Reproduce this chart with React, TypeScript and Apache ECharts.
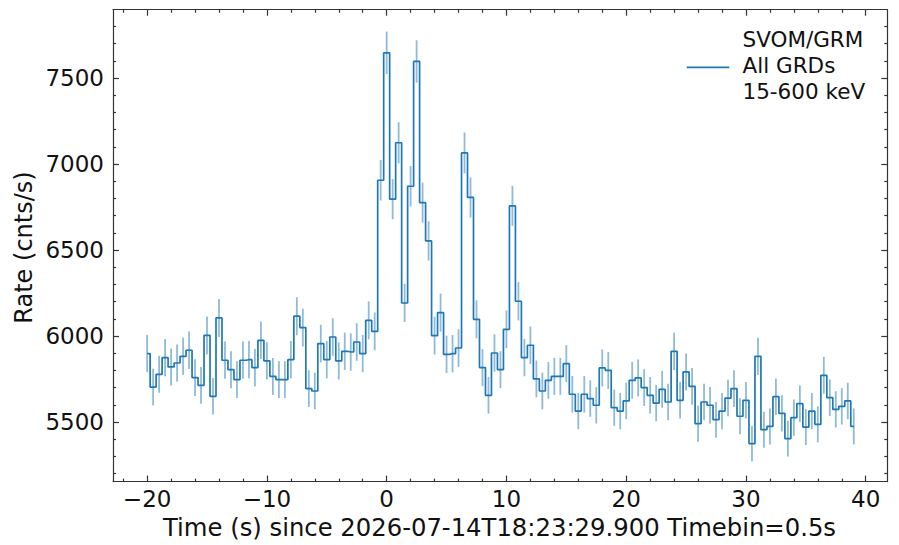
import React, { useEffect, useRef } from "react";
import * as echarts from "echarts";

// ---- data (0.5 s bins starting at -20 s) ----
const TIME_START = -20;
const TIMEBIN = 0.5;
const RATES: number[] = [
  5898, 5703, 5777, 5874, 5820, 5843, 5882, 5917, 5758, 5713,
  6004, 5649, 6105, 5859, 5804, 5746, 5859, 5862, 5816, 5975,
  5855, 5765, 5746, 5746, 5862, 6115, 6049, 5694, 5680, 5956,
  5862, 5994, 5855, 5911, 5907, 5965, 5898, 6091, 6027, 6906,
  7647, 6796, 7124, 6192, 6871, 7597, 6776, 6553, 6002, 6136,
  5893, 5897, 5930, 7065, 6806, 6097, 5816, 5655, 5901, 5804,
  6039, 6757, 6202, 5874, 5946, 5750, 5680, 5742, 5765, 5765,
  5839, 5661, 5563, 5661, 5636, 5597, 5814, 5800, 5583, 5563,
  5622, 5742, 5756, 5700, 5655, 5610, 5690, 5616, 5911, 5626,
  5791, 5707, 5490, 5616, 5597, 5513, 5563, 5639, 5694, 5533,
  5626, 5374, 5882, 5455, 5474, 5647, 5550, 5403, 5525, 5606,
  5470, 5563, 5486, 5771, 5641, 5573, 5591, 5622, 5474,
];

const X_MAJOR = [-20, -10, 0, 10, 20, 30, 40];
const X_MINOR = [-22, -18, -16, -14, -12, -8, -6, -4, -2, 2, 4, 6, 8, 12, 14, 16, 18, 22, 24, 26, 28, 32, 34, 36, 38];
const Y_MAJOR = [5500, 6000, 6500, 7000, 7500];
const Y_MINOR = [5200, 5300, 5400, 5600, 5700, 5800, 5900, 6100, 6200, 6300, 6400, 6600, 6700, 6800, 6900, 7100, 7200, 7300, 7400, 7600, 7700, 7800];

const X_TITLE = "Time (s) since 2026-07-14T18:23:29.900 Timebin=0.5s";
const Y_TITLE = "Rate (cnts/s)";
const LEGEND_TEXT = "SVOM/GRM\nAll GRDs\n15-600 keV";

const X_MIN = -22.85;
const X_MAX = 41.8;
const Y_MIN = 5153;
const Y_MAX = 7898;

const FONT = "DejaVu Sans";
const LINE_COLOR = "#1f77b4";
const ERR_COLOR = "rgba(31,119,180,0.5)";
const AXIS_COLOR = "#333";

export default function App() {
  const ref = useRef<HTMLDivElement>(null);

  useEffect(() => {
    if (!ref.current) return;
    const chart = echarts.init(ref.current, undefined, { renderer: "svg" });

    const times = RATES.map((_, i) => TIME_START + i * TIMEBIN);
    const stepData = RATES.map((r, i) => [times[i], r]);
    // Poisson uncertainty of the counts in each bin, expressed as a rate
    const errData = RATES.map((r, i) => {
      const e = Math.sqrt(r * TIMEBIN) / TIMEBIN;
      return [times[i], r - e, r + e];
    });

    const fmt = (v: number) => (v < 0 ? "\u2212" + String(-v) : String(v));

    const xBase = {
      type: "value" as const,
      min: X_MIN,
      max: X_MAX,
      splitLine: { show: false },
    };
    const yBase = {
      type: "value" as const,
      min: Y_MIN,
      max: Y_MAX,
      splitLine: { show: false },
    };
    const lineStyle = { color: AXIS_COLOR, width: 1.2 };

    chart.setOption({
      animation: false,
      backgroundColor: "#fff",
      grid: { left: 113, right: 11.7, top: 9.7, bottom: 63.4, containLabel: false },
      xAxis: [
        {
          ...xBase,
          position: "bottom",
          axisLine: { show: true, onZero: false, lineStyle },
          axisTick: { show: true, inside: true, length: 6, customValues: X_MAJOR, lineStyle },
          axisLabel: {
            show: true,
            customValues: X_MAJOR,
            formatter: fmt,
            margin: 6,
            fontFamily: FONT,
            fontSize: 23,
            color: "#111",
          },
        },
        {
          ...xBase,
          position: "bottom",
          axisLine: { show: false, onZero: false },
          axisTick: { show: true, inside: true, length: 3, customValues: X_MINOR, lineStyle },
          axisLabel: { show: false },
        },
        {
          ...xBase,
          position: "top",
          axisLine: { show: true, onZero: false, lineStyle },
          axisTick: { show: true, inside: true, length: 6, customValues: X_MAJOR, lineStyle },
          axisLabel: { show: false },
        },
        {
          ...xBase,
          position: "top",
          axisLine: { show: false, onZero: false },
          axisTick: { show: true, inside: true, length: 3, customValues: X_MINOR, lineStyle },
          axisLabel: { show: false },
        },
      ],
      yAxis: [
        {
          ...yBase,
          position: "left",
          axisLine: { show: true, onZero: false, lineStyle },
          axisTick: { show: true, inside: true, length: 6, customValues: Y_MAJOR, lineStyle },
          axisLabel: {
            show: true,
            customValues: Y_MAJOR,
            formatter: fmt,
            margin: 9,
            fontFamily: FONT,
            fontSize: 23,
            color: "#111",
          },
        },
        {
          ...yBase,
          position: "left",
          axisLine: { show: false, onZero: false },
          axisTick: { show: true, inside: true, length: 3, customValues: Y_MINOR, lineStyle },
          axisLabel: { show: false },
        },
        {
          ...yBase,
          position: "right",
          axisLine: { show: true, onZero: false, lineStyle },
          axisTick: { show: true, inside: true, length: 6, customValues: Y_MAJOR, lineStyle },
          axisLabel: { show: false },
        },
        {
          ...yBase,
          position: "right",
          axisLine: { show: false, onZero: false },
          axisTick: { show: true, inside: true, length: 3, customValues: Y_MINOR, lineStyle },
          axisLabel: { show: false },
        },
      ],
      series: [
        {
          name: "errors",
          type: "custom",
          xAxisIndex: 0,
          yAxisIndex: 0,
          data: errData,
          z: 1,
          renderItem: (params: any, api: any) => {
            const p1 = api.coord([api.value(0), api.value(1)]);
            const p2 = api.coord([api.value(0), api.value(2)]);
            return {
              type: "line",
              shape: { x1: p1[0], y1: p1[1], x2: p2[0], y2: p2[1] },
              style: { stroke: ERR_COLOR, lineWidth: 1.8 },
            };
          },
        },
        {
          name: LEGEND_TEXT,
          type: "line",
          step: "middle",
          xAxisIndex: 0,
          yAxisIndex: 0,
          data: stepData,
          showSymbol: false,
          symbol: "none",
          z: 2,
          lineStyle: { color: LINE_COLOR, width: 1.7 },
        },
      ],
      graphic: [
        {
          type: "text",
          x: 23.5,
          y: 247.5,
          rotation: Math.PI / 2,
          style: {
            text: Y_TITLE,
            font: `24px "${FONT}"`,
            fill: "#111",
            align: "center",
            verticalAlign: "middle",
          },
        },
        {
          type: "text",
          x: 499.5,
          y: 527,
          style: {
            text: X_TITLE,
            font: `24.3px "${FONT}"`,
            fill: "#111",
            align: "center",
            verticalAlign: "middle",
          },
        },
        {
          type: "line",
          shape: { x1: 686.7, y1: 67.3, x2: 729.3, y2: 67.3 },
          style: { stroke: LINE_COLOR, lineWidth: 1.8 },
        },
        {
          type: "text",
          x: 742.5,
          y: 65.8,
          style: {
            text: LEGEND_TEXT,
            font: `21.5px "${FONT}"`,
            lineHeight: 26.2,
            fill: "#111",
            align: "left",
            verticalAlign: "middle",
          },
        },
      ],
    });

    return () => chart.dispose();
  }, []);

  return (
    <div
      ref={ref}
      style={{ position: "fixed", left: 0, top: 0, width: 899, height: 545, background: "#fff" }}
    />
  );
}
